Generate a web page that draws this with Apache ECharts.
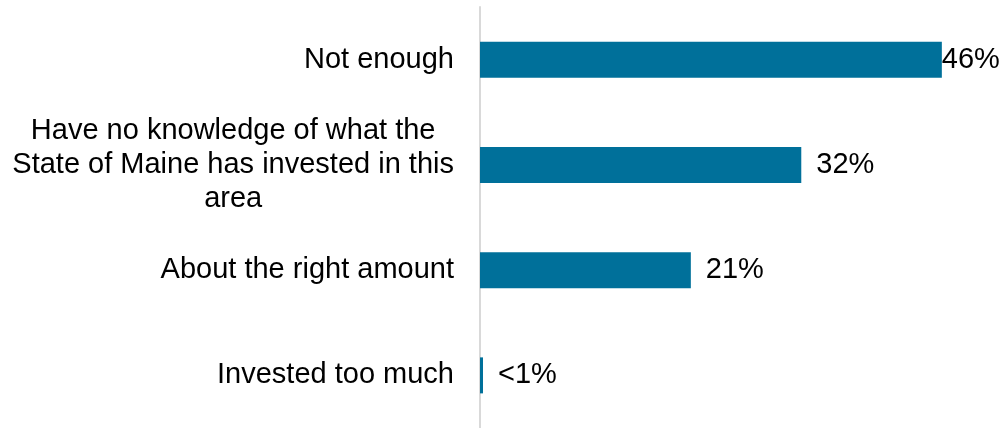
<!DOCTYPE html>
<html>
<head>
<meta charset="utf-8">
<script src="https://cdn.jsdelivr.net/npm/echarts@6/dist/echarts.min.js"></script>
<style>html,body{margin:0;padding:0;background:#fff}#c{width:1000px;height:428px}</style>
</head>
<body>
<div id="c"></div>
<script>
const categories = [
  "Not enough",
  "Have no knowledge of what the\nState of Maine has invested in this\narea",
  "About the right amount",
  "Invested too much"
];
const values = [46, 32, 21, 0.3];
const valueLabels = ["46%", "32%", "21%", "<1%"];

const chart = echarts.init(document.getElementById('c'), null, {renderer: 'canvas'});
const FONT = '"Liberation Sans", Arial, sans-serif';
const FS = 29;
const data = values.map((v, i) => ({
  value: v,
  label: { formatter: valueLabels[i], distance: i === 0 ? 0 : 15 }
}));
chart.setOption({
  animation: false,
  grid: { left: 480, right: 18, top: 7, bottom: 0, containLabel: false },
  xAxis: {
    type: 'value', min: 0, max: 50,
    show: false
  },
  yAxis: {
    type: 'category',
    data: categories,
    inverse: true,
    axisLine: { show: true, lineStyle: { color: '#d9d9d9', width: 2 } },
    axisTick: { show: false },
    splitLine: { show: false },
    axisLabel: {
      margin: 26,
      color: '#000',
      fontFamily: FONT,
      fontSize: FS,
      lineHeight: 34,
      formatter: function (v) {
        return v.split('\n').map(s => '{c|' + s + '}').join('\n');
      },
      rich: { c: { align: 'center', color: '#000', fontFamily: FONT, fontSize: FS, lineHeight: 34 } }
    }
  },
  series: [{
    type: 'bar',
    data: data,
    barWidth: 36,
    itemStyle: { color: '#00709a' },
    label: {
      show: true,
      position: 'right',
      color: '#000',
      fontFamily: FONT,
      fontSize: FS
    }
  }]
});
</script>
</body>
</html>
